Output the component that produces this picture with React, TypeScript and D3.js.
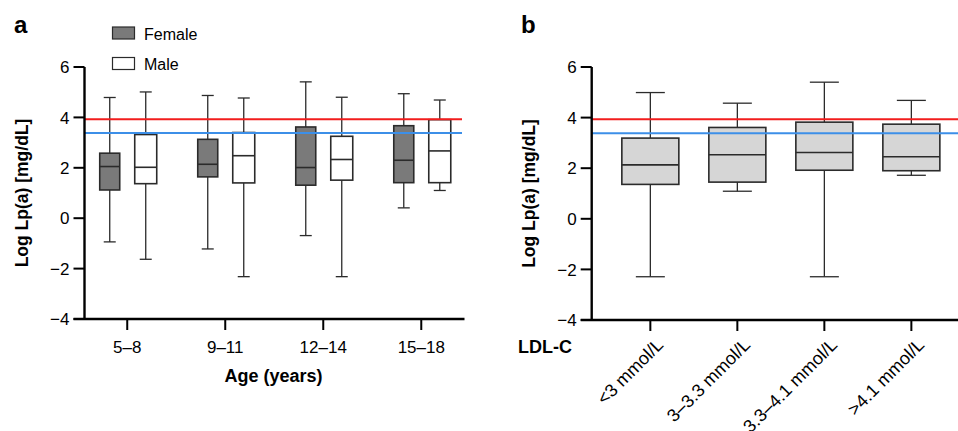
import React from "react";
import * as d3 from "d3";

// Panel a data: Lp(a) by age group and sex (log scale)
const ageGroups = ["5–8", "9–11", "12–14", "15–18"];
const femaleMin = [-0.94, -1.22, -0.69, 0.41];
const femaleQ1 = [1.12, 1.64, 1.31, 1.41];
const femaleMed = [2.05, 2.14, 2.01, 2.3];
const femaleQ3 = [2.58, 3.13, 3.62, 3.67];
const femaleMax = [4.79, 4.87, 5.41, 4.94];

const maleMin = [-1.63, -2.32, -2.32, 1.1];
const maleQ1 = [1.37, 1.4, 1.51, 1.41];
const maleMed = [2.02, 2.48, 2.33, 2.67];
const maleQ3 = [3.32, 3.4, 3.25, 3.91];
const maleMax = [5.01, 4.77, 4.8, 4.69];

// Panel b data: Lp(a) by LDL-C group
const ldlGroups = ["<3 mmol/L", "3–3.3 mmol/L", "3.3–4.1 mmol/L", ">4.1 mmol/L"];
const ldlMin = [-2.29, 1.09, -2.29, 1.72];
const ldlQ1 = [1.36, 1.45, 1.92, 1.9];
const ldlMed = [2.13, 2.53, 2.62, 2.45];
const ldlQ3 = [3.19, 3.61, 3.82, 3.74];
const ldlMax = [4.99, 4.57, 5.4, 4.68];

const yTicks = [-4, -2, 0, 2, 4, 6];
const redThreshold = 3.93;
const blueThreshold = 3.38;

const FONT = "'Liberation Sans', Arial, Helvetica, sans-serif";
const fmt = (v: number) => (v < 0 ? "\u2212" + Math.abs(v) : String(v));

type BoxProps = {
  cx: number;
  w: number;
  cap: number;
  y: d3.ScaleLinear<number, number>;
  min: number;
  q1: number;
  med: number;
  q3: number;
  max: number;
  fill: string;
};

function Box({ cx, w, cap, y, min, q1, med, q3, max, fill }: BoxProps) {
  const stroke = "#2b2b2b";
  return (
    <g>
      <line x1={cx} x2={cx} y1={y(max)} y2={y(q3)} stroke={stroke} strokeWidth={1.3} />
      <line x1={cx} x2={cx} y1={y(q1)} y2={y(min)} stroke={stroke} strokeWidth={1.3} />
      <line x1={cx - cap / 2} x2={cx + cap / 2} y1={y(max)} y2={y(max)} stroke={stroke} strokeWidth={1.3} />
      <line x1={cx - cap / 2} x2={cx + cap / 2} y1={y(min)} y2={y(min)} stroke={stroke} strokeWidth={1.3} />
      <rect x={cx - w / 2} y={y(q3)} width={w} height={y(q1) - y(q3)} fill={fill} stroke={stroke} strokeWidth={1.6} />
      <line x1={cx - w / 2} x2={cx + w / 2} y1={y(med)} y2={y(med)} stroke={stroke} strokeWidth={1.6} />
    </g>
  );
}

export default function App() {
  // Panel a scales
  const yA = d3.scaleLinear().domain([-4, 6]).range([319, 67]);
  const xA = d3.scalePoint<string>().domain(ageGroups).range([84.5, 464]).padding(0.436);
  const axA = 84.5;

  // Panel b scales
  const yB = d3.scaleLinear().domain([-4, 6]).range([320, 67]);
  const xB = d3.scalePoint<string>().domain(ldlGroups).range([591.7, 970]).padding(0.674);
  const axB = 591.7;

  return (
    <svg
      width={958}
      height={431}
      style={{ position: "absolute", left: 0, top: 0, background: "#fff" }}
      fontFamily={FONT}
    >
      {/* ---------- Panel a ---------- */}
      <text x={14} y={33} fontSize={24} fontWeight="bold">a</text>

      {/* legend */}
      <rect x={112.5} y={27} width={22} height={12} fill="#7a7a7a" stroke="#2b2b2b" strokeWidth={1.2} />
      <text x={144} y={39.5} fontSize={16}>Female</text>
      <rect x={112.5} y={57.5} width={22} height={12} fill="#fff" stroke="#2b2b2b" strokeWidth={1.2} />
      <text x={144} y={70} fontSize={16}>Male</text>

      {ageGroups.map((g, i) => (
        <g key={g}>
          <Box cx={xA(g)! - 17.5} w={20} cap={12} y={yA} min={femaleMin[i]} q1={femaleQ1[i]} med={femaleMed[i]} q3={femaleQ3[i]} max={femaleMax[i]} fill="#7a7a7a" />
          <Box cx={xA(g)! + 18.5} w={22} cap={12} y={yA} min={maleMin[i]} q1={maleQ1[i]} med={maleMed[i]} q3={maleQ3[i]} max={maleMax[i]} fill="#fff" />
        </g>
      ))}

      <line x1={axA} x2={462} y1={yA(redThreshold)} y2={yA(redThreshold)} stroke="#f21d1d" strokeWidth={2} />
      <line x1={axA} x2={462} y1={yA(blueThreshold)} y2={yA(blueThreshold)} stroke="#3c8fe8" strokeWidth={2} />

      {/* y axis a */}
      <line x1={axA} x2={axA} y1={yA(6)} y2={yA(-4)} stroke="#000" strokeWidth={2.4} />
      {yTicks.map((t) => (
        <g key={t}>
          <line x1={axA - 11} x2={axA} y1={yA(t)} y2={yA(t)} stroke="#000" strokeWidth={2} />
          <text x={axA - 15} y={yA(t)} dy="0.36em" textAnchor="end" fontSize={17}>{fmt(t)}</text>
        </g>
      ))}
      {/* x axis a */}
      <line x1={axA - 11} x2={464.5} y1={yA(-4)} y2={yA(-4)} stroke="#000" strokeWidth={2.4} />
      {ageGroups.map((g) => (
        <g key={g}>
          <line x1={xA(g)!} x2={xA(g)!} y1={yA(-4)} y2={yA(-4) + 11} stroke="#000" strokeWidth={2} />
          <text x={xA(g)!} y={353} textAnchor="middle" fontSize={17}>{g}</text>
        </g>
      ))}
      <text x={273.5} y={382} textAnchor="middle" fontSize={18} fontWeight="bold">Age (years)</text>
      <text transform={`translate(28,${(yA(6) + yA(-4)) / 2}) rotate(-90)`} textAnchor="middle" fontSize={17.5} fontWeight="bold">
        Log Lp(a) [mg/dL]
      </text>

      {/* ---------- Panel b ---------- */}
      <text x={521} y={33} fontSize={24} fontWeight="bold">b</text>

      {ldlGroups.map((g, i) => (
        <Box key={g} cx={xB(g)!} w={57} cap={29} y={yB} min={ldlMin[i]} q1={ldlQ1[i]} med={ldlMed[i]} q3={ldlQ3[i]} max={ldlMax[i]} fill="#d6d6d6" />
      ))}

      <line x1={axB} x2={958} y1={yB(redThreshold)} y2={yB(redThreshold)} stroke="#f21d1d" strokeWidth={2} />
      <line x1={axB} x2={958} y1={yB(blueThreshold)} y2={yB(blueThreshold)} stroke="#3c8fe8" strokeWidth={2} />

      <line x1={axB} x2={axB} y1={yB(6)} y2={yB(-4)} stroke="#000" strokeWidth={2.4} />
      {yTicks.map((t) => (
        <g key={t}>
          <line x1={axB - 11} x2={axB} y1={yB(t)} y2={yB(t)} stroke="#000" strokeWidth={2} />
          <text x={axB - 15} y={yB(t)} dy="0.36em" textAnchor="end" fontSize={17}>{fmt(t)}</text>
        </g>
      ))}
      <line x1={axB - 11} x2={958} y1={yB(-4)} y2={yB(-4)} stroke="#000" strokeWidth={2.4} />
      {ldlGroups.map((g) => (
        <g key={g}>
          <line x1={xB(g)!} x2={xB(g)!} y1={yB(-4)} y2={yB(-4) + 11} stroke="#000" strokeWidth={2} />
          <text transform={`translate(${xB(g)! + 14},${346}) rotate(-45)`} textAnchor="end" fontSize={18}>{g}</text>
        </g>
      ))}
      <text x={572} y={353} textAnchor="end" fontSize={18} fontWeight="bold">LDL-C</text>
      <text transform={`translate(535,${(yB(6) + yB(-4)) / 2}) rotate(-90)`} textAnchor="middle" fontSize={17.5} fontWeight="bold">
        Log Lp(a) [mg/dL]
      </text>
    </svg>
  );
}
